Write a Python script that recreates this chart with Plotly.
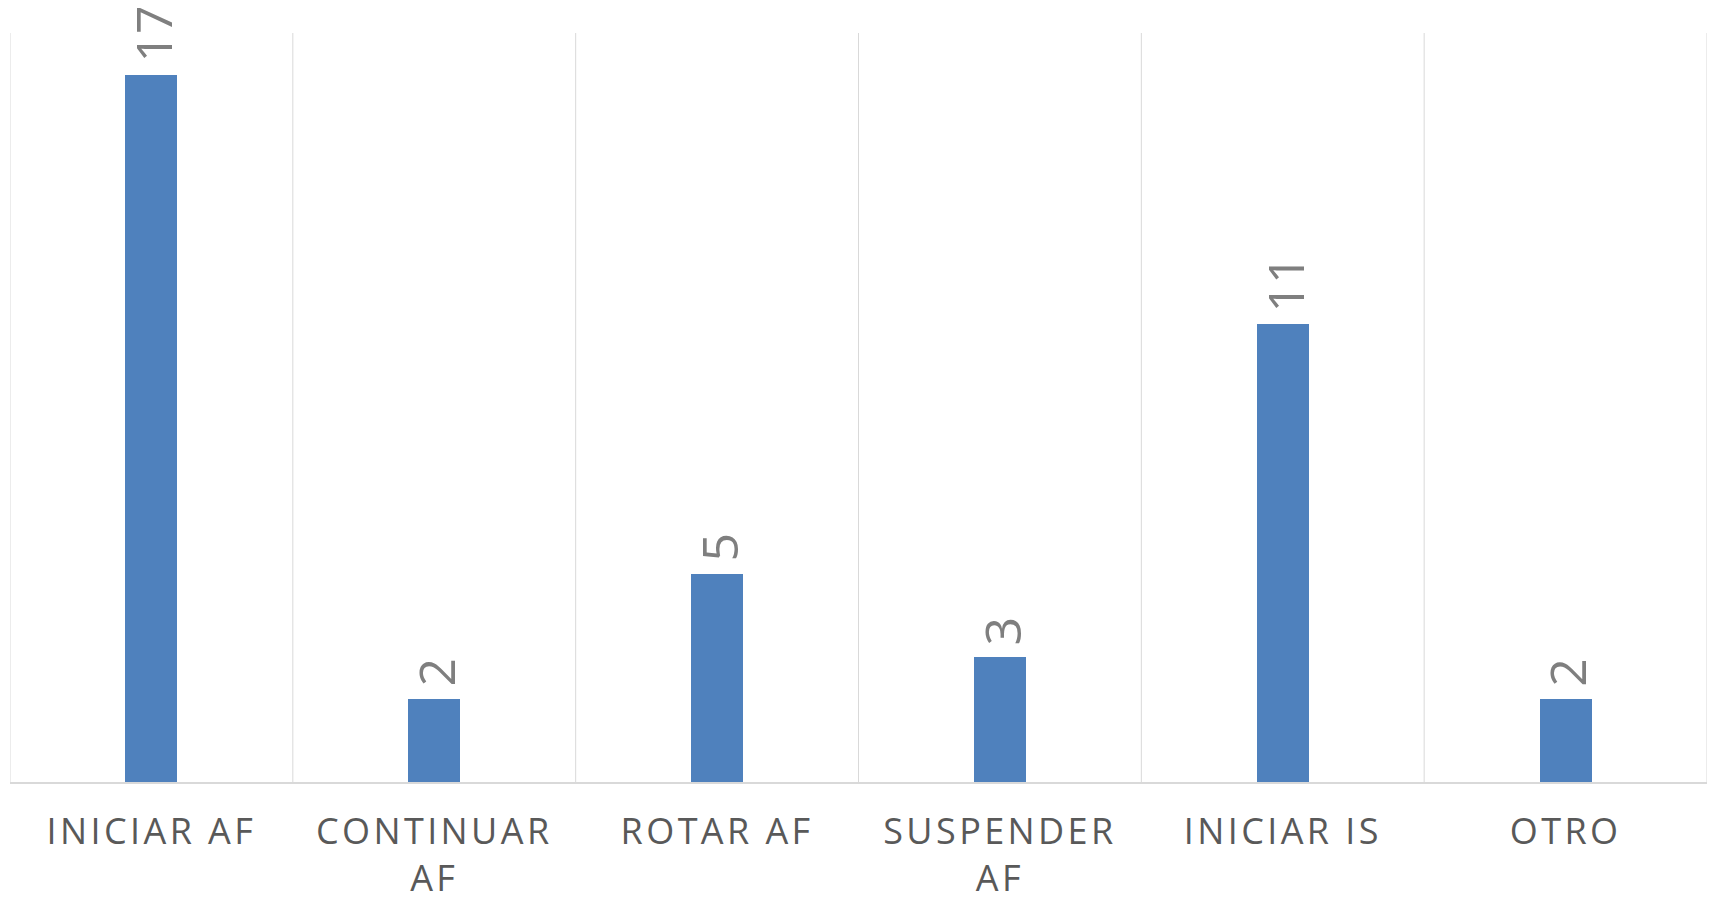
import plotly.graph_objects as go

categories = ["INICIAR AF", "CONTINUAR<br>AF", "ROTAR AF", "SUSPENDER<br>AF", "INICIAR IS", "OTRO"]
values = [17, 2, 5, 3, 11, 2]

fig = go.Figure()
fig.add_trace(go.Bar(
    x=categories, y=values,
    marker=dict(color="#4f81bd", line=dict(width=0)),
    width=0.184,
    hoverinfo="skip",
))

for c, v in zip(categories, values):
    fig.add_annotation(
        x=c, y=v, text=str(v), showarrow=False,
        textangle=-90, yanchor="bottom", xanchor="center",
        yshift=10, xshift=2,
        font=dict(family="Liberation Sans Narrow, Open Sans, sans-serif", size=50, color="#7f7f7f"),
    )

fig.update_xaxes(
    type="category",
    showgrid=False,
    showline=True, linecolor="#d9d9d9", linewidth=1.5,
    mirror=False,
    automargin=False,
    ticks="", tickfont=dict(family="Open Sans, sans-serif", size=36, color="#595959"),
    ticklabelstandoff=17,
    range=[-0.5, len(categories) - 0.5],
)
for i in range(len(categories) + 1):
    fig.add_shape(type="line", xref="x", yref="paper",
                  x0=i - 0.5, x1=i - 0.5, y0=0, y1=1,
                  line=dict(color="#d9d9d9", width=1), layer="below")

fig.update_yaxes(range=[0, 18], showgrid=False, showticklabels=False, zeroline=False,
                 showline=False, automargin=False)

fig.update_layout(
    width=1712, height=905,
    margin=dict(l=10, r=5, t=33, b=123, autoexpand=False),
    plot_bgcolor="white", paper_bgcolor="white",
    showlegend=False,
    bargap=0,
)

post = (
    "document.head.insertAdjacentHTML('beforeend',"
    "'<style>html,body{margin:0;padding:0;overflow:hidden}"
    " .xtick text{letter-spacing:3.4px}</style>');"
)

fig.write_html("out.html", config={"displayModeBar": False}, post_script=post)
